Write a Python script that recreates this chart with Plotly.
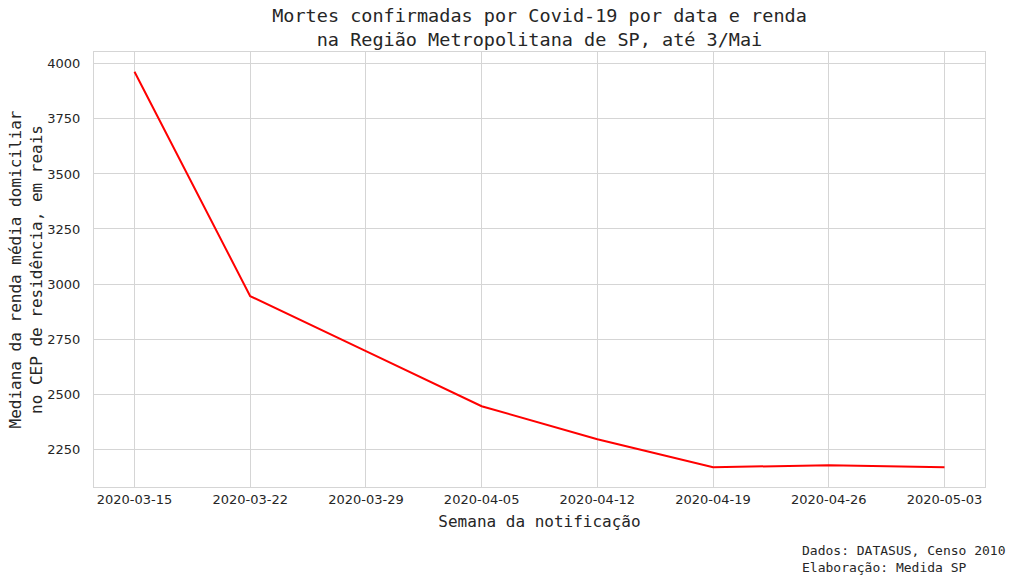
import plotly.graph_objects as go
import pandas as pd

semanas = ["2020-03-15", "2020-03-22", "2020-03-29", "2020-04-05",
           "2020-04-12", "2020-04-19", "2020-04-26", "2020-05-03"]
mediana_renda = [3964, 2945, 2695, 2445, 2295, 2168, 2177, 2168]
y_ticks = [2250, 2500, 2750, 3000, 3250, 3500, 3750, 4000]

datas = pd.to_datetime(semanas)
pad = pd.Timedelta(days=7 * 7 * 0.05)
span = max(mediana_renda) - min(mediana_renda)

grid = "#d5d5d5"
tick_font = dict(family="DejaVu Sans", size=13, color="#262626")
mono = "DejaVu Sans Mono"

fig = go.Figure()
fig.add_trace(go.Scatter(x=datas, y=mediana_renda, mode="lines",
                         line=dict(color="#ff0000", width=2), showlegend=False))

fig.update_layout(
    width=1024, height=583,
    margin=dict(l=94, r=39, t=52, b=96),
    paper_bgcolor="white", plot_bgcolor="white",
    title=dict(text="Mortes confirmadas por Covid-19 por data e renda<br>na Região Metropolitana de SP, até 3/Mai",
               font=dict(family=mono, size=18.5, color="#262626"),
               x=0.5, xref="paper", xanchor="center", y=0.962, yanchor="top"),
    xaxis=dict(
        range=[datas[0] - pad, datas[-1] + pad],
        tickvals=datas, ticktext=semanas,
        showgrid=True, gridcolor=grid, gridwidth=1,
        showline=True, linecolor=grid, mirror=True, linewidth=1,
        ticks="", tickfont=tick_font, zeroline=False,
        title=dict(text="Semana da notificação", font=dict(family=mono, size=16, color="#262626"), standoff=10),
    ),
    yaxis=dict(
        range=[min(mediana_renda) - 0.05 * span, max(mediana_renda) + 0.05 * span],
        tickvals=y_ticks,
        showgrid=True, gridcolor=grid, gridwidth=1,
        showline=True, linecolor=grid, mirror=True, linewidth=1,
        ticks="", tickfont=tick_font, zeroline=False, ticklabelstandoff=10,
        title=dict(text="Mediana da renda média domiciliar<br>no CEP de residência, em reais",
                   font=dict(family=mono, size=16, color="#262626"), standoff=0),
    ),
    annotations=[dict(
        text="Dados: DATASUS, Censo 2010<br>Elaboração: Medida SP",
        xref="paper", yref="paper", x=1.0256, y=-0.125,
        xanchor="right", yanchor="top", align="left", showarrow=False,
        font=dict(family=mono, size=13, color="#262626"),
    )],
)

fig.write_html("out.html", config={"displayModeBar": False},
               post_script="document.body.style.margin='0';")
